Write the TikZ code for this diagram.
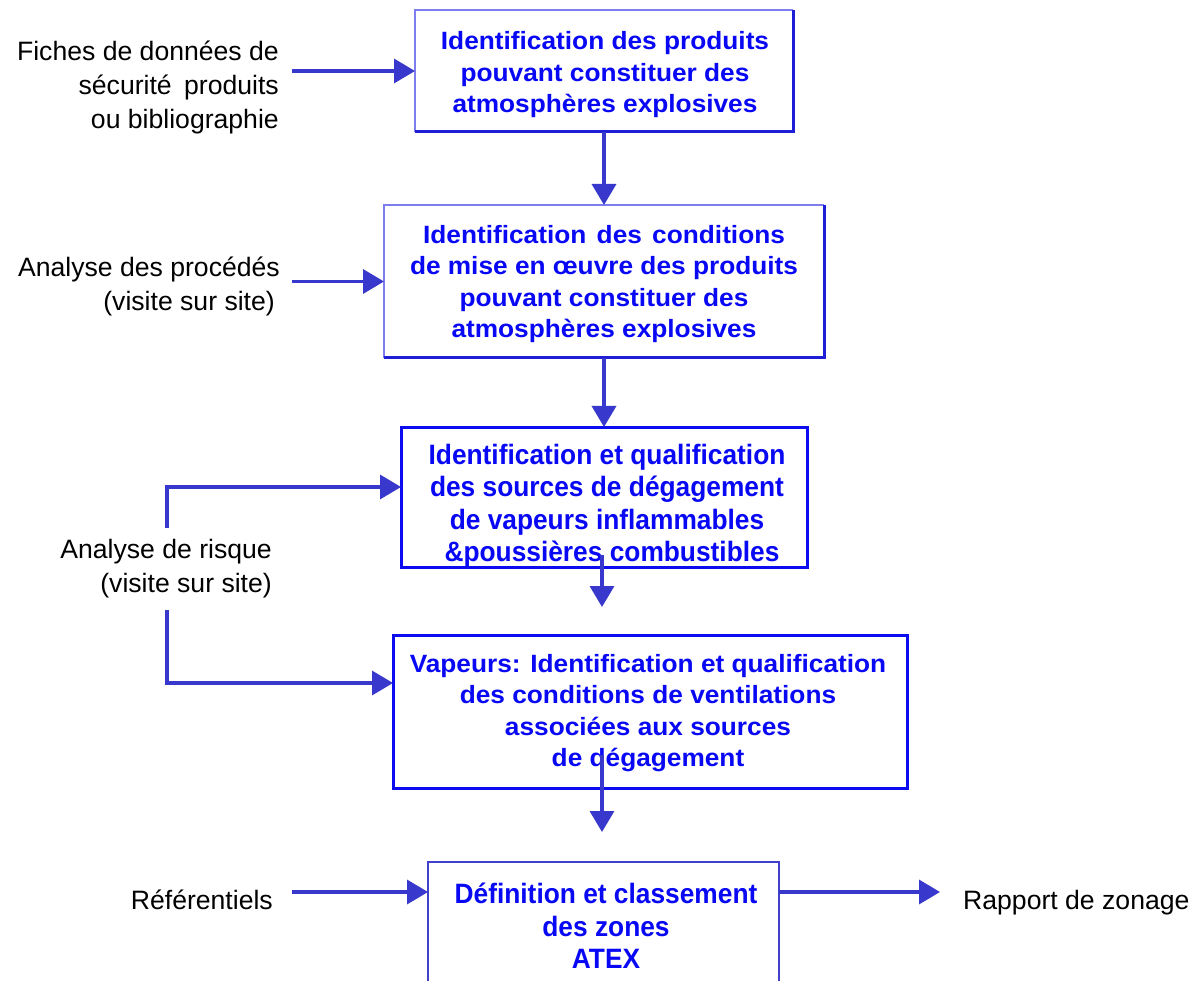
\documentclass[tikz,border=0pt]{standalone}
\usepackage{fontspec}
\setmainfont{Liberation Sans}
\newfontfamily\wideb[FakeStretch=1.05]{Liberation Sans}
\newfontfamily\narrowb[FakeStretch=0.94]{Liberation Sans}
\usetikzlibrary{arrows.meta}
\definecolor{arrowblue}{RGB}{56,56,204}
\definecolor{textblue}{RGB}{8,8,245}
\definecolor{lightedge}{RGB}{125,125,238}
\definecolor{darkedge}{RGB}{30,30,215}
\definecolor{boxblue}{RGB}{12,12,240}
\definecolor{boxfive}{RGB}{64,64,204}
\begin{document}
\begin{tikzpicture}[x=1pt,y=-1pt,
  arr/.style={draw=arrowblue, line width=3.5pt, -{Triangle[length=21pt,width=24pt]}},
  lbl/.style={font=\fontsize{26.6}{34}\selectfont, text=black, align=right, inner sep=0pt},
  wtxt/.style={font=\wideb\bfseries\fontsize{25}{31.5}\selectfont, text=textblue, align=center, inner sep=0pt},
  ntxt/.style={font=\narrowb\bfseries\fontsize{28}{32.5}\selectfont, text=textblue, align=center, inner sep=0pt},
  frame/.style={rectangle, inner sep=0pt, outer sep=0pt},
  thinedge/.style={draw=lightedge, line width=1.5pt},
  thickedge/.style={draw=darkedge, line width=3pt},
  fullbox/.style={draw=boxblue, line width=3pt},
]
\useasboundingbox[fill=white] (0,0) rectangle (1202,981);

% boxes
\node[frame, minimum width=378pt, minimum height=122pt] (b1) at (604,71) {};
\node[frame, minimum width=440pt, minimum height=153pt] (b2) at (604,281.5) {};
\node[frame, fullbox, minimum width=406pt, minimum height=140pt] (b3) at (604,497) {};
\node[frame, fullbox, minimum width=514pt, minimum height=153pt] (b4) at (650,711.5) {};
\node[frame, minimum width=351pt, minimum height=121pt] (b5) at (603.5,922.5) {};

\draw[thinedge] (b1.south west) -- (b1.north west) -- (b1.north east);
\draw[thickedge] (b1.north east) -- (b1.south east) -- (b1.south west);
\draw[thinedge] (b2.south west) -- (b2.north west) -- (b2.north east);
\draw[thickedge] (b2.north east) -- (b2.south east) -- (b2.south west);
\draw[draw=boxfive, line width=2.5pt] (b5.south west) -- (b5.north west) -- (b5.north east) -- (b5.south east);

% box texts
\node[wtxt] (t1) at (605,75) {Identification des produits\\pouvant constituer des\\atmosphères explosives};
\node[wtxt] (t2) at (604,284) {Identification\hspace{3pt} des\hspace{3pt} conditions\\de mise en œuvre des produits\\pouvant constituer des\\atmosphères explosives};
\node[ntxt] (t3) at (607,506) {Identification et qualification\\des sources de dégagement\\de vapeurs inflammables\\\hspace{10pt}\&poussières combustibles};
\node[wtxt] (t4) at (648,713) {Vapeurs: Identification et qualification\\des conditions de ventilations\\associées aux sources\\de dégagement};
\node[ntxt] (t5) at (606,926) {Définition et classement\\des zones\\ATEX};

% labels
\node[lbl, anchor=east] (l1) at (279,87) {Fiches de données de\\sécurité\hspace{5pt} produits\\ou bibliographie};
\node[lbl, anchor=east] (l2) at (280,286) {Analyse des procédés\\(visite sur site)\kern5pt};
\node[lbl, anchor=east] (l3) at (272,569) {Analyse de risque\\(visite sur site)};
\node[lbl, anchor=base east] (l4) at (273,909) {Référentiels};
\node[lbl, anchor=base west, align=left] (l5) at (963,909) {Rapport de zonage};

% connectors
\coordinate (a1) at (292,71);
\draw[arr] (a1) -- (a1 -| b1.west);
\coordinate (a2) at (292,281.5);
\draw[arr] (a2) -- (a2 -| b2.west);
\draw[arr] (b1.south) -- (b2.north);
\draw[arr] (b2.south) -- (b3.north);
\coordinate (c3s) at (602,555);
\coordinate (c3e) at (602,607);
\draw[arr] (c3s) -- (c3e);
\coordinate (c4s) at (602,755);
\coordinate (c4e) at (602,832);
\draw[arr] (c4s) -- (c4e);
\coordinate (r1) at (167,528);
\coordinate (r2) at (167,487);
\draw[arr] (r1) -- (r2) -- (r2 -| b3.west);
\coordinate (r3) at (167,610);
\coordinate (r4) at (167,683);
\draw[arr] (r3) -- (r4) -- (r4 -| b4.west);
\coordinate (a4) at (292,892);
\draw[arr] (a4) -- (a4 -| b5.west);
\coordinate (a5) at (940,892);
\draw[arr] (a5 -| b5.east) -- (a5);
\end{tikzpicture}
\end{document}
